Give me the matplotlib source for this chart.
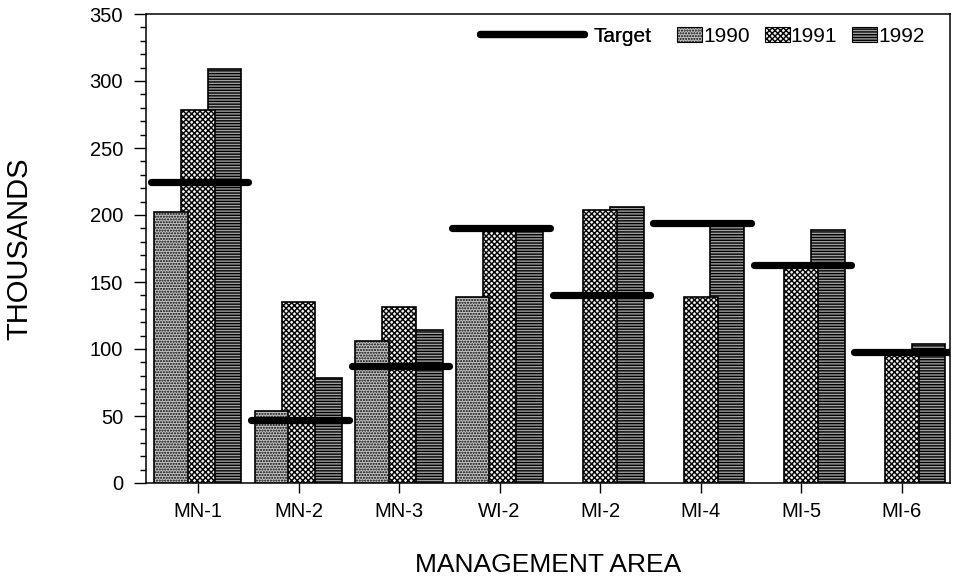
# grouped bar chart: management area numbers (thousands) vs target
import numpy as np
import matplotlib
matplotlib.use("Agg")
import matplotlib.pyplot as plt
from matplotlib.lines import Line2D
from matplotlib.patches import Patch

# data
areas = ["MN-1", "MN-2", "MN-3", "WI-2", "MI-2", "MI-4", "MI-5", "MI-6"]
y1990 = [202, 54, 106, 139, np.nan, np.nan, np.nan, np.nan]
y1991 = [278, 135, 131, 188, 204, 139, 162, 96]
y1992 = [309, 78, 114, 188, 206, 192, 189, 104]
target = [225, 47, 87, 190, 140, 194, 163, 98]

plt.rcParams["font.family"] = ["Liberation Sans", "DejaVu Sans"]
plt.rcParams["hatch.linewidth"] = 1.0

fig = plt.figure(figsize=(9.55, 5.78), dpi=100)
ax = fig.add_axes([146 / 955, 1 - 483 / 578, 804 / 955, 469 / 578])

x = np.arange(len(areas))
w = 0.335

# 1992 at back, 1990 in front (bars overlap a bit)
styles = [
    ("1992", y1992, 0.265, "#a0a0a0", "------", 2.8),
    ("1991", y1991, 0.0, "#f0f0f0", "xxxxxx", 2.9),
    ("1990", y1990, -0.27, "#c4c4c4", "......", 3.0),
]
handles = {}
for name, vals, off, fc, hatch, z in styles:
    vals = np.array(vals, dtype=float)
    ok = ~np.isnan(vals)
    ax.bar(x[ok] + off, vals[ok], width=w, facecolor=fc, edgecolor="black",
           hatch=hatch, linewidth=1.2, zorder=z)
    handles[name] = Patch(facecolor=fc, edgecolor="black", hatch=hatch, linewidth=0.8)

# target lines across each group
for xi, t in zip(x, target):
    ax.plot([xi - 0.47, xi + 0.5], [t, t], color="black", linewidth=5.2,
            solid_capstyle="round", zorder=5)

ax.set_xlim(-0.517, 7.48)
ax.set_ylim(0, 350)
ax.set_yticks(np.arange(0, 351, 50))
ax.set_yticks(np.arange(0, 351, 10), minor=True)
ax.set_xticks(x)
ax.set_xticklabels(areas)
ax.tick_params(axis="y", which="major", direction="out", length=8.5, width=1, pad=8, labelsize=14.5)
ax.tick_params(axis="y", which="minor", direction="out", length=4.3, width=1)
ax.tick_params(axis="x", direction="out", length=7, width=1, pad=7, labelsize=14.5)
for s in ax.spines.values():
    s.set_linewidth(1.1)

ax.set_ylabel("THOUSANDS", fontsize=21)
ax.yaxis.set_label_coords(-0.1405, 0.5)
ax.set_xlabel("MANAGEMENT AREA", fontsize=19)
ax.xaxis.set_label_coords(0.5, -0.15)

# legend: target line and the three years
leg1 = fig.legend([Line2D([], [], color="black", linewidth=5.2, solid_capstyle="round")],
                  ["Target"], loc="center left", bbox_to_anchor=(480 / 955, 1 - 36 / 578),
                  frameon=False, fontsize=15, handlelength=5.0, handletextpad=0.45,
                  borderpad=0, borderaxespad=0)
fig.add_artist(leg1)
fig.legend([handles["1990"], handles["1991"], handles["1992"]], ["1990", "1991", "1992"],
           loc="center left", bbox_to_anchor=(677 / 955, 1 - 36 / 578), ncol=3,
           frameon=False, fontsize=15, handlelength=1.2, handleheight=0.72,
           handletextpad=0.05, columnspacing=0.72, borderpad=0, borderaxespad=0)

plt.savefig("out.png", dpi=100)
